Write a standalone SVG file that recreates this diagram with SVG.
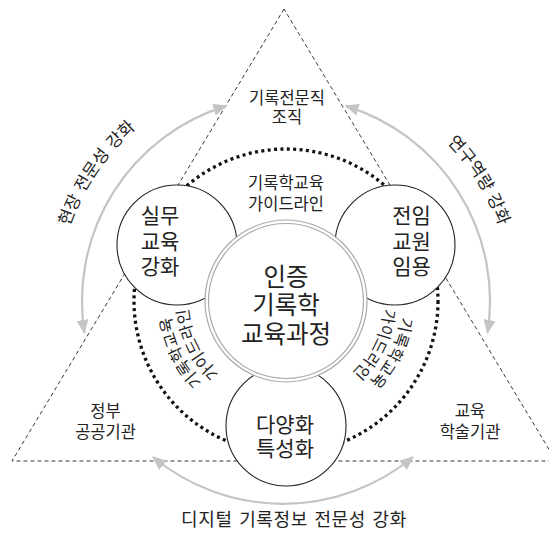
<svg xmlns="http://www.w3.org/2000/svg" width="549" height="534" viewBox="0 0 549 534">
<style>
text { font-family: "Noto Sans CJK KR", "Noto Sans", sans-serif; fill: #222; }
.t16 { font-size: 16.5px; }
.tc { font-size: 16px; }
.ta { font-size: 17px; }
.t21 { font-size: 21px; }
.t24 { font-size: 24.5px; }
.c { text-anchor: middle; }
.tri { fill: none; stroke: #222; stroke-width: 0.9; stroke-dasharray: 4 3; }
.garc { fill: none; stroke: #c4c4c4; stroke-width: 2.2; marker-start: url(#ah); marker-end: url(#ah); }
.dot { fill: none; stroke: #111; stroke-width: 3.3; stroke-dasharray: 3 3.4; }
.node { fill: #fff; stroke: #222; stroke-width: 1.1; }
.dbl { stroke: #aaa; stroke-width: 1.2; }
</style>
<defs>
<marker id="ah" markerUnits="userSpaceOnUse" markerWidth="14" markerHeight="12" viewBox="0 0 14 12" refX="13" refY="6" orient="auto-start-reverse">
<path d="M0,0 L14,6 L0,12 z" fill="#c4c4c4"/>
</marker>
<path id="pLo" d="M238.8,407.0 A116,116 0 0,1 173.4,272.9"/>
<path id="pLi" d="M246.1,390.5 A98,98 0 0,1 190.9,277.3"/>
<path id="pRo" d="M398.6,272.9 A116,116 0 0,1 333.2,407.0"/>
<path id="pRi" d="M381.1,277.3 A98,98 0 0,1 325.9,390.5"/>
<path id="pAL" d="M58.3,324.9 A229,229 0 0,1 222.9,80.9"/>
<path id="pAR" d="M355.8,86.1 A226,226 0 0,1 509.8,332.5"/>
</defs>

<g id="triangle">
<polygon class="tri" points="284,9 12,461 556,461"/>
</g>

<g id="connectors">
<path class="garc" d="M84.5,332.9 A204,204 0 0,1 226.4,105.9"/>
<path class="garc" d="M345.6,105.9 A204,204 0 0,1 487.5,332.9"/>
<path class="garc" d="M413,457 A204,204 0 0,1 153,457"/>
</g>

<g id="dotted-ring">
<circle class="dot" cx="286" cy="301" r="152"/>
</g>

<g id="n-practice">
<circle class="node" cx="177" cy="245" r="60"/>
<text class="t21 c" x="160" y="223">실무</text>
<text class="t21 c" x="160" y="249">교육</text>
<text class="t21 c" x="160" y="274">강화</text>
</g>

<g id="n-faculty">
<circle class="node" cx="395" cy="245" r="60"/>
<text class="t21 c" x="411.5" y="223">전임</text>
<text class="t21 c" x="411.5" y="249">교원</text>
<text class="t21 c" x="411.5" y="274">임용</text>
</g>

<g id="n-diversity">
<circle class="node" cx="286" cy="426" r="60"/>
<text class="t21 c" x="285" y="432">다양화</text>
<text class="t21 c" x="285" y="456">특성화</text>
</g>

<g id="n-center">
<circle cx="286" cy="301" r="81" fill="#fff" class="dbl"/>
<circle cx="286" cy="301" r="77.5" fill="none" class="dbl"/>
<text class="t24 c" x="286" y="286">인증</text>
<text class="t24 c" x="286" y="314">기록학</text>
<text class="t24 c" x="286" y="343">교육과정</text>
</g>

<g id="label-org">
<text class="t16 c" x="287" y="104">기록전문직</text>
<text class="t16 c" x="287" y="123">조직</text>
</g>

<g id="label-gov">
<text class="t16 c" x="105.5" y="416.5">정부</text>
<text class="t16 c" x="105.5" y="437.5">공공기관</text>
</g>

<g id="label-edu">
<text class="t16 c" x="470" y="416.5">교육</text>
<text class="t16 c" x="470" y="437.5">학술기관</text>
</g>

<g id="label-guide-top">
<text class="t16 c" x="286" y="189">기록학교육</text>
<text class="t16 c" x="286" y="209.5">가이드라인</text>
</g>

<g id="label-guide-left">
<text class="tc" text-anchor="middle"><textPath href="#pLo" startOffset="50%">기록학교육</textPath></text>
<text class="tc" text-anchor="middle"><textPath href="#pLi" startOffset="50%">가이드라인</textPath></text>
</g>

<g id="label-guide-right">
<text class="tc" text-anchor="middle"><textPath href="#pRo" startOffset="50%">기록학교육</textPath></text>
<text class="tc" text-anchor="middle"><textPath href="#pRi" startOffset="50%">가이드라인</textPath></text>
</g>

<g id="label-arcs">
<text class="ta" text-anchor="middle" word-spacing="1.5"><textPath href="#pAL" startOffset="50%">현장 전문성 강화</textPath></text>
<text class="ta" text-anchor="middle" word-spacing="1.5"><textPath href="#pAR" startOffset="50%">연구역량 강화</textPath></text>
<text class="c" style="font-size:18px" x="294" y="526" word-spacing="2" letter-spacing="0.6">디지털 기록정보 전문성 강화</text>
</g>
</svg>
